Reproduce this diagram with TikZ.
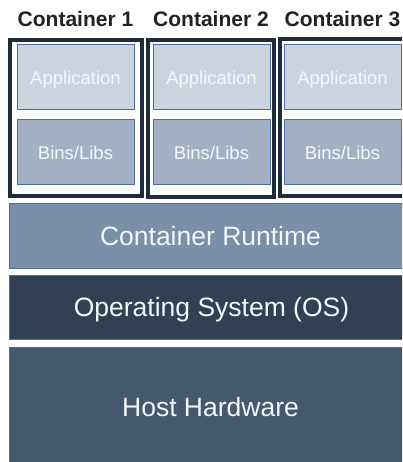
\documentclass[tikz,border=0pt]{standalone}
\usepackage{fontspec}
\setmainfont{Liberation Sans}
\definecolor{appfill}{HTML}{CBD3DE}
\definecolor{binfill}{HTML}{A2B0C2}
\definecolor{rtfill}{HTML}{7A8FAA}
\definecolor{osfill}{HTML}{2F4153}
\definecolor{hwfill}{HTML}{44586E}
\definecolor{framecol}{HTML}{1F2C3B}
\definecolor{edgecol}{HTML}{4A6EA8}
\definecolor{txtcol}{HTML}{F4F6F8}
\definecolor{titlecol}{HTML}{222222}
\tikzset{
  box/.style={draw=edgecol, line width=1pt, inner sep=0pt, outer sep=0pt, anchor=north west},
  appbox/.style={box, fill=appfill, minimum width=117pt, minimum height=65pt},
  binbox/.style={box, fill=binfill, minimum width=117pt, minimum height=65pt},
  layer/.style={box, minimum width=404pt},
  framebox/.style={draw=framecol, line width=4pt, fill=white, inner sep=0pt, outer sep=0pt, anchor=north west},
  smalltxt/.style={anchor=base, text=txtcol, inner sep=0pt, font=\fontsize{18.5}{22}\selectfont},
  bigtxt/.style={anchor=base, text=txtcol, inner sep=0pt, font=\fontsize{26.5}{31}\selectfont},
  titletxt/.style={anchor=base, text=titlecol, inner sep=0pt, font=\fontsize{21}{25}\selectfont\bfseries},
}
\begin{document}
\begin{tikzpicture}[x=1pt,y=-1pt]
\useasboundingbox (0,0) rectangle (402,462);
\clip (0,0) rectangle (402,462);
\fill[white] (0,0) rectangle (402,462);
% titles
\node[titletxt] (t1) at (75.5,26.7) {Container 1};
\node[titletxt] (t2) at (211,26.7) {Container 2};
\node[titletxt] (t3) at (342.5,26.7) {Container 3};
% container frames
\node[framebox, minimum width=132pt, minimum height=156pt] (c1) at (10,40) {};
\node[framebox, minimum width=126.5pt, minimum height=157pt] (c2) at (147.7,40) {};
\node[framebox, minimum width=131pt, minimum height=157.5pt] (c3) at (280,38.7) {};
% application boxes
\node[appbox] (a1) at (17,45) {};
\node[appbox] (a2) at (153,45) {};
\node[appbox] (a3) at (284,45) {};
\node[binbox] (b1) at (17,120) {};
\node[binbox] (b2) at (153,120) {};
\node[binbox] (b3) at (284,120) {};
\node[smalltxt] (a1t) at (75.5,85) {Application};
\node[smalltxt] (a2t) at (211.5,85) {Application};
\node[smalltxt] (a3t) at (342.5,85) {Application};
\node[smalltxt] (b1t) at (75.5,160) {Bins/Libs};
\node[smalltxt] (b2t) at (211.5,160) {Bins/Libs};
\node[smalltxt] (b3t) at (342.5,160) {Bins/Libs};
% layers
\node[layer, fill=rtfill, minimum height=65pt] (rt) at (9,203) {};
\node[layer, fill=osfill, minimum height=64pt] (os) at (9,275) {};
\node[layer, fill=hwfill, minimum height=125pt] (hw) at (9,347) {};
\node[bigtxt] (rtt) at (210.5,245) {Container Runtime};
\node[bigtxt] (ost) at (211.5,316.7) {Operating System (OS)};
\node[bigtxt] (hwt) at (210.5,416.7) {Host Hardware};
\end{tikzpicture}
\end{document}
